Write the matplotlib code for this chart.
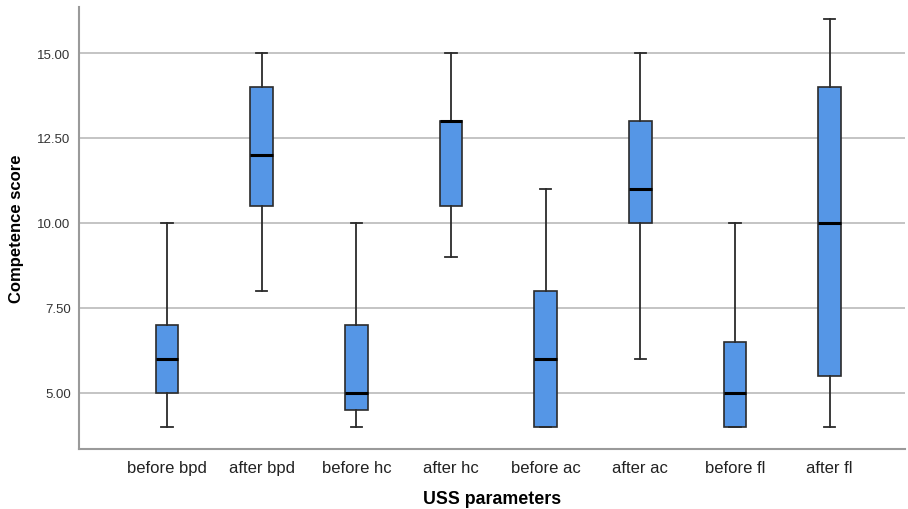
import matplotlib.pyplot as plt
from matplotlib.ticker import FormatStrFormatter

plt.rcParams['font.family'] = ['Liberation Sans', 'DejaVu Sans']

labels = ["before bpd", "after bpd", "before hc", "after hc",
          "before ac", "after ac", "before fl", "after fl"]
whislo = [4, 8, 4, 9, 4, 6, 4, 4]
q1 = [5, 10.5, 4.5, 10.5, 4, 10, 4, 5.5]
med = [6, 12, 5, 13, 6, 11, 5, 10]
q3 = [7, 14, 7, 13, 8, 13, 6.5, 14]
whishi = [10, 15, 10, 15, 11, 15, 10, 16]

colors = {"box": "#5596e6", "edge": "#2b2b2b", "grid": "#b4b4b4", "spine": "#9a9a9a"}

stats = []
for i in range(len(labels)):
    stats.append({"label": labels[i], "whislo": whislo[i], "q1": q1[i], "med": med[i],
                  "q3": q3[i], "whishi": whishi[i], "fliers": []})

fig = plt.figure(figsize=(9.08, 5.10), dpi=100)
ax = fig.add_axes([0.087, 0.118, 0.91, 0.866])

ax.bxp(stats, positions=range(len(labels)), widths=0.24, patch_artist=True,
       showfliers=False,
       boxprops=dict(facecolor=colors["box"], edgecolor=colors["edge"], linewidth=1.2),
       medianprops=dict(color="black", linewidth=2.2),
       whiskerprops=dict(color=colors["edge"], linewidth=1.3),
       capprops=dict(color=colors["edge"], linewidth=1.3),
       capwidths=0.12, zorder=3)

# axes limits and grid
ax.set_xlim(-0.93, 7.8)
ax.set_ylim(3.35, 16.35)
ax.set_yticks([5, 7.5, 10, 12.5, 15])
ax.yaxis.set_major_formatter(FormatStrFormatter("%.2f"))
ax.yaxis.grid(True, color=colors["grid"], linewidth=1.1, zorder=0)
ax.set_axisbelow(True)

ax.set_xticks(range(len(labels)))
ax.set_xticklabels(labels, fontsize=12, color="#222222")
ax.tick_params(axis="y", labelsize=9.5, colors="#333333", length=0, pad=6)
ax.tick_params(axis="x", length=0, pad=8)

ax.set_xlabel("USS parameters", fontsize=12.8, fontweight="bold", labelpad=11)
ax.set_ylabel("Competence score", fontsize=12, fontweight="bold", labelpad=10)

# customize axes
ax.spines['top'].set_visible(False)
ax.spines['right'].set_visible(False)
ax.spines['left'].set_color(colors["spine"])
ax.spines['bottom'].set_color(colors["spine"])
ax.spines['left'].set_linewidth(1.5)
ax.spines['bottom'].set_linewidth(1.5)

plt.savefig("out.png", dpi=100)
